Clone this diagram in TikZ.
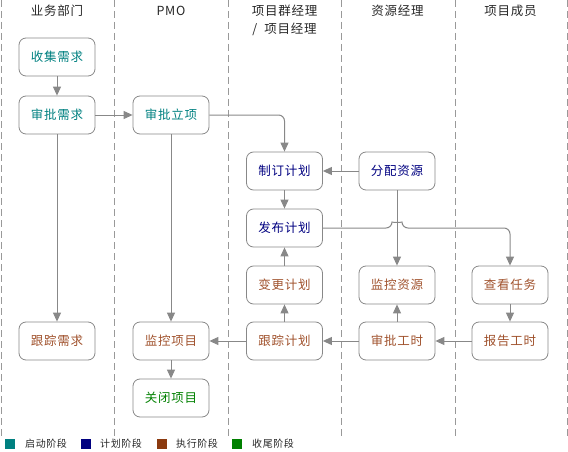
\documentclass[tikz,border=0pt]{standalone}
\usepackage{fontspec}
\setmainfont[LetterSpace=6]{Noto Sans CJK SC}
\usetikzlibrary{arrows.meta}
\definecolor{cstart}{HTML}{008080}
\definecolor{cplan}{HTML}{000080}
\definecolor{cexec}{HTML}{8B3A0F}
\definecolor{cexectext}{HTML}{A0522D}
\definecolor{cend}{HTML}{008000}
\definecolor{lineg}{HTML}{888888}
\definecolor{laneg}{HTML}{999999}
\tikzset{
  box/.style={draw=lineg, line width=0.8pt, rounded corners=7pt, minimum width=76pt, minimum height=38pt, inner sep=0pt, font=\fontsize{12.5}{14}\selectfont},
  startbox/.style={box, text=cstart},
  planbox/.style={box, text=cplan},
  execbox/.style={box, text=cexectext},
  endbox/.style={box, text=cend},
  conn/.style={draw=lineg, line width=1pt, rounded corners=6pt, -{Triangle[width=8pt,length=9pt]}},
  lane/.style={draw=laneg, line width=0.9pt, dash pattern=on 7pt off 4pt},
  head/.style={font=\fontsize{12.5}{14}\selectfont, text=black!85},
  legtxt/.style={font=\fontsize{10}{12}\selectfont, text=black!85, anchor=west, inner sep=0pt},
}
\begin{document}
\begin{tikzpicture}[x=1pt,y=-1pt]
\useasboundingbox (0,0) rectangle (568,452);
% lanes
\foreach \xx in {1.5,114,228,341,455,567}
  \draw[lane] (\xx,0) -- (\xx,436);
% headers
\node[head] (h1) at (57,11) {业务部门};
\node[head] (h2) at (171,11) {PMO};
\node[head] (h3) at (284.5,11) {项目群经理};
\node[head] (h3b) at (284.5,29) {/\hspace{7pt}项目经理};
\node[head] (h4) at (397.5,11) {资源经理};
\node[head] (h5) at (510.5,11) {项目成员};
% nodes
\node[startbox] (n1) at (57,57) {收集需求};
\node[startbox] (n2) at (57,115) {审批需求};
\node[execbox] (n3) at (57,341) {跟踪需求};
\node[startbox] (p1) at (171,115) {审批立项};
\node[execbox] (p2) at (171,341) {监控项目};
\node[endbox] (p3) at (171,398) {关闭项目};
\node[planbox] (g1) at (284.5,171) {制订计划};
\node[planbox] (g2) at (284.5,228) {发布计划};
\node[execbox] (g3) at (284.5,285) {变更计划};
\node[execbox] (g4) at (284.5,341) {跟踪计划};
\node[planbox] (r1) at (397,171) {分配资源};
\node[execbox] (r2) at (397,285) {监控资源};
\node[execbox] (r3) at (397,341) {审批工时};
\node[execbox] (m1) at (510,285) {查看任务};
\node[execbox] (m2) at (510,341) {报告工时};
% connectors
\draw[conn] (n1) -- (n2);
\draw[conn] (n2) -- (p1);
\draw[conn] (n2) -- (n3);
\draw[conn] (p1.east) -| (g1.north);
\draw[conn] (p1) -- (p2);
\draw[conn] (r1) -- (g1);
\draw[conn] (g1) -- (g2);
\draw[conn] (g3) -- (g2);
\draw[conn] (r1) -- (r2);
\coordinate (j1) at (392,228);
\coordinate (j2) at (402,228);
\draw[conn] (g2.east) -- (j1) .. controls (392,222.5) and (402,222.5) .. (j2) -| (m1.north);
\draw[conn] (m1) -- (m2);
\draw[conn] (m2) -- (r3);
\draw[conn] (r3) -- (g4);
\draw[conn] (r3) -- (r2);
\draw[conn] (g4) -- (g3);
\draw[conn] (g4) -- (p2);
\draw[conn] (p2) -- (p3);
% legend
\fill[cstart] (5,439) rectangle (15,449);
\node[legtxt] (l1) at (25,444) {启动阶段};
\fill[cplan] (81,439) rectangle (91,449);
\node[legtxt] (l2) at (100,444) {计划阶段};
\fill[cexec] (157,439) rectangle (167,449);
\node[legtxt] (l3) at (176,444) {执行阶段};
\fill[cend] (232,439) rectangle (242,449);
\node[legtxt] (l4) at (252,444) {收尾阶段};
\end{tikzpicture}
\end{document}
